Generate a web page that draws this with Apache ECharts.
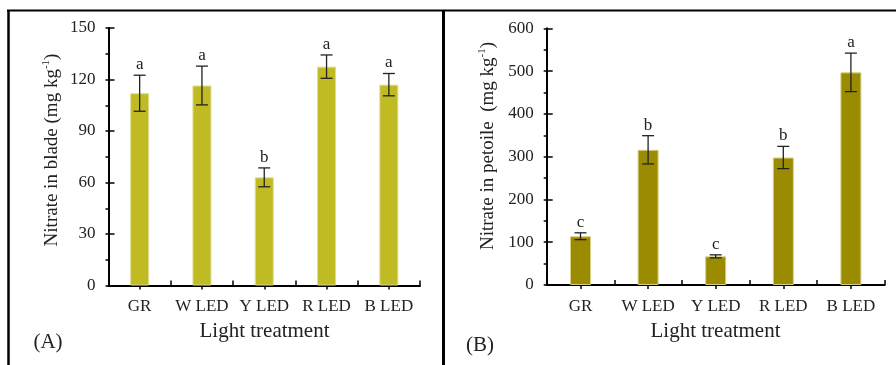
<!DOCTYPE html>
<html>
<head>
<meta charset="utf-8">
<script src="https://cdn.jsdelivr.net/npm/echarts@6/dist/echarts.min.js"></script>
<style>
html,body{margin:0;padding:0;background:#fff;}
#chart{width:896px;height:365px;}
</style>
</head>
<body>
<div id="chart"></div>
<script>
var categories = ['GR', 'W LED', 'Y LED', 'R LED', 'B LED'];
var bladeMean = [112, 116.5, 63, 127.5, 117];
var bladeErr = [10.5, 11.3, 5.5, 6.8, 6.5];
var bladeLetters = ['a', 'a', 'b', 'a', 'a'];
var petioleMean = [114, 316, 67, 298, 497];
var petioleErr = [8, 33, 3.5, 26, 45];
var petioleLetters = ['c', 'b', 'c', 'b', 'a'];
var bladeTicks = {min: 0, max: 150, interval: 30};
var petioleTicks = {min: 0, max: 600, interval: 100};

var FONT = 'Liberation Serif';
var chart = echarts.init(document.getElementById('chart'));

function errItem(letters) {
  return function (params, api) {
    var idx = api.value(0), m = api.value(1), e = api.value(2);
    var top = api.coord([idx, m + e]);
    var bot = api.coord([idx, m - e]);
    var x = top[0], hw = 6;
    var st = {stroke: '#222', lineWidth: 1.3};
    return {
      type: 'group',
      children: [
        {type: 'line', shape: {x1: x, y1: top[1], x2: x, y2: bot[1]}, style: st},
        {type: 'line', shape: {x1: x - hw, y1: top[1], x2: x + hw, y2: top[1]}, style: st},
        {type: 'line', shape: {x1: x - hw, y1: bot[1], x2: x + hw, y2: bot[1]}, style: st},
        {type: 'text', style: {text: letters[params.dataIndex], x: x, y: top[1] - 2,
          align: 'center', verticalAlign: 'bottom', fontFamily: FONT, fontSize: 17, fill: '#222'}}
      ]
    };
  };
}

function xAxes(gi) {
  return [
    {type: 'category', gridIndex: gi, data: categories, position: 'bottom',
     axisLine: {lineStyle: {color: '#000', width: 2}},
     axisTick: {show: true, inside: true, length: 5, alignWithLabel: false, lineStyle: {color: '#000', width: 1.5}},
     axisLabel: {fontFamily: FONT, fontSize: 17, color: '#222', margin: 13, interval: 0}},
    {type: 'category', gridIndex: gi, data: categories, position: 'bottom',
     axisLine: {show: false},
     axisTick: {show: true, inside: false, length: 4, alignWithLabel: true, interval: 0, lineStyle: {color: '#000', width: 1.5}},
     axisLabel: {show: false}}
  ];
}
function yAxes(gi, t) {
  return [
    {type: 'value', gridIndex: gi, min: t.min, max: t.max, interval: t.interval, position: 'left',
     splitLine: {show: false},
     axisLine: {show: true, lineStyle: {color: '#000', width: 2}},
     axisTick: {show: true, inside: true, length: 6, lineStyle: {color: '#000', width: 1.5}},
     axisLabel: {fontFamily: FONT, fontSize: 17, color: '#222', margin: 13}},
    {type: 'value', gridIndex: gi, min: t.min, max: t.max, interval: t.interval, position: 'left',
     splitLine: {show: false},
     axisLine: {show: false},
     axisTick: {show: true, inside: false, length: 3, lineStyle: {color: '#000', width: 1.5}},
     minorTick: {show: true, splitNumber: 2, length: 3, lineStyle: {color: '#000', width: 1.5}},
     axisLabel: {show: false}}
  ];
}

var option = {
  animation: false,
  backgroundColor: '#fff',
  grid: [
    {left: 108.5, top: 28, width: 311.5, height: 257.5},
    {left: 546.7, top: 28.3, width: 338, height: 256.7}
  ],
  xAxis: xAxes(0).concat(xAxes(1)),
  yAxis: yAxes(0, bladeTicks).concat(yAxes(1, petioleTicks)),
  series: [
    {type: 'bar', xAxisIndex: 0, yAxisIndex: 0, data: bladeMean, barWidth: 19,
     itemStyle: {color: '#c1bb23', borderColor: '#dedb96', borderWidth: 1}},
    {type: 'custom', xAxisIndex: 0, yAxisIndex: 0, renderItem: errItem(bladeLetters),
     data: bladeMean.map(function (m, i) { return [i, m, bladeErr[i]]; }), z: 5},
    {type: 'bar', xAxisIndex: 2, yAxisIndex: 2, data: petioleMean, barWidth: 21,
     itemStyle: {color: '#9a8b00', borderColor: '#d6cf8a', borderWidth: 1}},
    {type: 'custom', xAxisIndex: 2, yAxisIndex: 2, renderItem: errItem(petioleLetters),
     data: petioleMean.map(function (m, i) { return [i, m, petioleErr[i]]; }), z: 5}
  ],
  graphic: [
    {type: 'line', shape: {x1: 7, y1: 10.5, x2: 896, y2: 10.5}, style: {stroke: '#000', lineWidth: 2}},
    {type: 'line', shape: {x1: 8.5, y1: 10, x2: 8.5, y2: 365}, style: {stroke: '#000', lineWidth: 2.5}},
    {type: 'line', shape: {x1: 443.5, y1: 10, x2: 443.5, y2: 365}, style: {stroke: '#000', lineWidth: 3}},
    {type: 'text', x: 52, y: 150, rotation: Math.PI / 2,
     style: {text: '{n|Nitrate in blade (mg kg}{s|-1}{n|)}', align: 'center', verticalAlign: 'middle',
       rich: {n: {fontFamily: FONT, fontSize: 19, fill: '#222', lineHeight: 22},
              s: {fontFamily: FONT, fontSize: 11, fill: '#222', verticalAlign: 'top', lineHeight: 22, padding: [0, 0, 8, 0]}}}},
    {type: 'text', x: 488, y: 146, rotation: Math.PI / 2,
     style: {text: '{n|Nitrate in petoile  (mg kg}{s|-1}{n|)}', align: 'center', verticalAlign: 'middle',
       rich: {n: {fontFamily: FONT, fontSize: 19, fill: '#222', lineHeight: 22},
              s: {fontFamily: FONT, fontSize: 11, fill: '#222', verticalAlign: 'top', lineHeight: 22, padding: [0, 0, 8, 0]}}}},
    {type: 'text', x: 264.5, y: 331, style: {text: 'Light treatment', align: 'center', verticalAlign: 'middle',
       fontFamily: FONT, fontSize: 21, fill: '#222'}},
    {type: 'text', x: 715.5, y: 331, style: {text: 'Light treatment', align: 'center', verticalAlign: 'middle',
       fontFamily: FONT, fontSize: 21, fill: '#222'}},
    {type: 'text', x: 48, y: 342, style: {text: '(A)', align: 'center', verticalAlign: 'middle',
       fontFamily: FONT, fontSize: 21, fill: '#222'}},
    {type: 'text', x: 480, y: 345, style: {text: '(B)', align: 'center', verticalAlign: 'middle',
       fontFamily: FONT, fontSize: 21, fill: '#222'}}
  ]
};
chart.setOption(option);
</script>
</body>
</html>
